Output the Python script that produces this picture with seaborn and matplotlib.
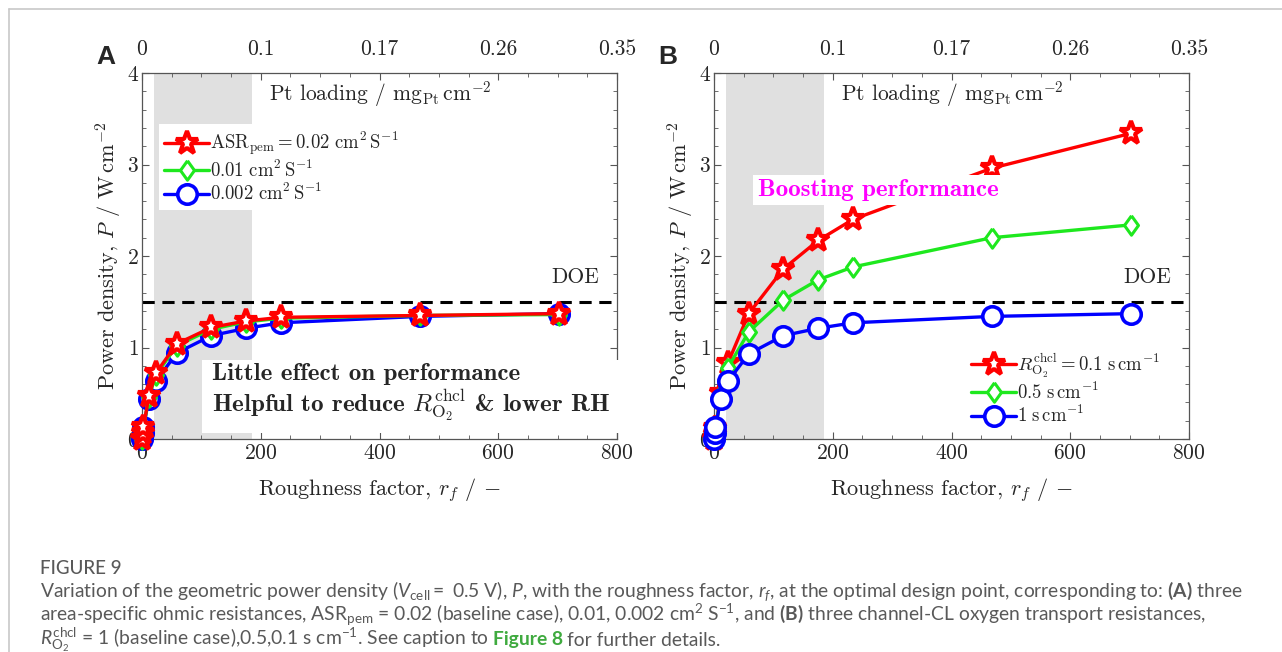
import numpy as np
import pandas as pd
import seaborn as sns
import matplotlib.pyplot as plt
from matplotlib.lines import Line2D

# roughness factor values (shared by all series)
rf = [0.23, 1.17, 2.34, 11.7, 23.4, 58.5, 117, 175.5, 234, 468, 702]

# panel A: different ASR_pem
a_red = [0.0, 0.07, 0.13, 0.47, 0.72, 1.04, 1.22, 1.29, 1.33, 1.35, 1.37]
a_green = [0.0, 0.06, 0.12, 0.46, 0.70, 1.02, 1.20, 1.28, 1.32, 1.35, 1.36]
a_blue = [0.0, 0.07, 0.13, 0.44, 0.63, 0.94, 1.13, 1.21, 1.27, 1.34, 1.37]

# panel B: different channel-CL O2 resistance
b_red = [0.0, 0.05, 0.12, 0.50, 0.83, 1.37, 1.86, 2.17, 2.40, 2.96, 3.34]
b_green = [0.0, 0.05, 0.11, 0.48, 0.78, 1.17, 1.52, 1.74, 1.88, 2.20, 2.34]
b_blue = [0.0, 0.07, 0.13, 0.44, 0.63, 0.93, 1.13, 1.21, 1.27, 1.34, 1.37]

top_ticks = [0, 200, 400, 600, 800]
top_labels = ['0', '0.1', '0.17', '0.26', '0.35']
doe = 1.5

sns.set_style('ticks')
plt.rcParams['font.family'] = ['cmr10']
plt.rcParams['mathtext.fontset'] = 'cm'
plt.rcParams['mathtext.rm'] = 'Lato'
plt.rcParams['mathtext.it'] = 'Lato:italic'
plt.rcParams['mathtext.bf'] = 'Lato:bold'
plt.rcParams['axes.formatter.use_mathtext'] = True
plt.rcParams['axes.unicode_minus'] = False

RED, GREEN, BLUE = '#ff0000', '#1ee81e', '#0000ff'
tall_diamond = [(0, 1), (0.72, 0), (0, -1), (-0.72, 0), (0, 1)]
styles = {
    'red': dict(color=RED, marker='*', markersize=17, mfc='white', mec=RED, mew=3.0),
    'green': dict(color=GREEN, marker=tall_diamond, markersize=14, mfc='white', mec=GREEN, mew=2.2),
    'blue': dict(color=BLUE, marker='o', markersize=14, mfc='white', mec=BLUE, mew=2.6),
}

fig = plt.figure(figsize=(12.82, 6.52), dpi=100)
axA = fig.add_axes([142 / 1282, 1 - 439 / 652, 475 / 1282, 366 / 652])
axB = fig.add_axes([714 / 1282, 1 - 439 / 652, 475 / 1282, 366 / 652])


def series(ax, y, key, z):
    sns.lineplot(x=rf, y=y, ax=ax, lw=2.4, zorder=z, errorbar=None,
                 legend=False, clip_on=False, **styles[key])


def style_axes(ax):
    ax.axvspan(20, 185, color='#e0e0e0', lw=0, zorder=0)
    ax.axhline(doe, color='black', lw=2.2, ls=(0, (4, 2.5)), zorder=2)
    ax.set_xlim(0, 800)
    ax.set_ylim(0, 4)
    ax.set_xticks([0, 200, 400, 600, 800])
    ax.set_xticks(np.arange(0, 801, 50), minor=True)
    ax.set_yticks([0, 1, 2, 3, 4])
    ax.set_yticks(np.arange(0, 4.01, 0.2), minor=True)
    ax.tick_params(which='both', direction='in', top=True, right=True,
                   color='#555555', labelsize=15.5)
    ax.tick_params(which='major', length=5, width=0.8)
    ax.tick_params(which='minor', length=3, width=0.6)
    ax.tick_params(axis='y', pad=2)
    for s in ax.spines.values():
        s.set_color('#555555')
        s.set_linewidth(0.9)
    ax.set_xlabel(r'Roughness factor, $r_f$ / $-$', fontsize=16, labelpad=9)
    ax.set_ylabel(r'Power density, $P$ / $\mathrm{W\,cm^{-2}}$', fontsize=16, labelpad=2)
    sec = ax.secondary_xaxis('top')
    sec.set_xticks(top_ticks)
    sec.set_xticklabels(top_labels)
    sec.tick_params(direction='in', length=0, labelsize=15.5, pad=10)
    sec.spines['top'].set_visible(False)
    ax.text(401, 3.77, r'Pt loading / $\mathrm{mg_{Pt}\,cm^{-2}}$', ha='center',
            va='center', fontsize=15.5, zorder=5)
    ax.text(729, 1.77, 'DOE', ha='center', va='center', fontsize=15.5, zorder=5)


def legend(ax, handles, labels, anchor):
    leg = ax.legend(handles, labels, loc='upper left', bbox_to_anchor=anchor,
                    fontsize=13.5, frameon=True, facecolor='white', edgecolor='none',
                    framealpha=1, fancybox=False, handlelength=2.4, handletextpad=0.05,
                    labelspacing=0.12, borderpad=0.3, borderaxespad=0)
    leg.set_zorder(6)
    for t in leg.get_texts():
        t.set_math_fontfamily('cm')
    return leg


# panel A
style_axes(axA)
series(axA, a_blue, 'blue', 3)
series(axA, a_green, 'green', 4)
series(axA, a_red, 'red', 5)
hA = [Line2D([], [], lw=2.4, **styles[k]) for k in ('red', 'green', 'blue')]
labA = [r'$\mathrm{ASR_{pem}} = 0.02\ \mathrm{cm^2\,S^{-1}}$',
        r'$0.01\ \mathrm{cm^2\,S^{-1}}$',
        r'$0.002\ \mathrm{cm^2\,S^{-1}}$']
legend(axA, hA, labA, (0.035, 0.86))
axA.text(118, 0.50, 'Little effect on performance\n'
         r'Helpful to reduce $R_{\mathrm{O_2}}^{\mathrm{chcl}}$ & lower RH',
         family='cmb10', fontsize=18, ha='left', va='center', linespacing=1.12,
         zorder=6, bbox=dict(fc='white', ec='none', pad=7))

# panel B
style_axes(axB)
series(axB, b_red, 'red', 3)
series(axB, b_green, 'green', 4)
series(axB, b_blue, 'blue', 5)
hB = [Line2D([], [], lw=2.4, **styles[k]) for k in ('red', 'green', 'blue')]
labB = [r'$R_{\mathrm{O_2}}^{\mathrm{chcl}} = 0.1\ \mathrm{s\,cm^{-1}}$',
        r'$0.5\ \mathrm{s\,cm^{-1}}$',
        r'$1\ \mathrm{s\,cm^{-1}}$']
legend(axB, hB, labB, (0.53, 0.255))
axB.text(276, 2.72, 'Boosting performance', family='cmb10', fontsize=18,
         color='#ff00ff', ha='center', va='center', zorder=6,
         bbox=dict(fc='white', ec='none', pad=3))

# panel letters
fig.text(96 / 1282, 1 - 57 / 652, 'A', family='Liberation Sans', weight='bold',
         fontsize=19, va='center')
fig.text(658 / 1282, 1 - 57 / 652, 'B', family='Liberation Sans', weight='bold',
         fontsize=19, va='center')

# frame lines
fig.add_artist(Line2D([9 / 1282, 1], [1 - 9 / 652] * 2, color='#c8c8c8', lw=1.2,
                      transform=fig.transFigure))
fig.add_artist(Line2D([9 / 1282] * 2, [0, 1 - 9 / 652], color='#c8c8c8', lw=1.2,
                      transform=fig.transFigure))

# caption
cap = dict(family='Lato', color='#595959', fontsize=13.9, math_fontfamily='custom',
           va='center', ha='left')
x0 = 40 / 1282
fig.text(x0, 1 - 568 / 652, 'FIGURE 9', **{**cap, 'fontsize': 13.5, 'weight': 'medium'})
fig.text(x0, 1 - 591 / 652,
         r'Variation of the geometric power density ($V_{\mathrm{cell}} =$ 0.5 V), $P$, '
         r'with the roughness factor, $r_f$, at the optimal design point, corresponding to: '
         r'$\mathbf{(A)}$ three', **cap)
fig.text(x0, 1 - 615 / 652,
         r'area-specific ohmic resistances, ASR$_{\mathrm{pem}}$ = 0.02 (baseline case), '
         r'0.01, 0.002 cm$^2$ S$^{-1}$, and $\mathbf{(B)}$ three channel-CL oxygen '
         r'transport resistances,', **cap)
t1 = fig.text(x0, 1 - 640 / 652,
              r'$R_{\mathrm{O_2}}^{\mathrm{chcl}}$ = 1 (baseline case),0.5,0.1 s cm$^{-1}$. '
              r'See caption to', **cap)
fig.canvas.draw()
rend = fig.canvas.get_renderer()
bb = t1.get_window_extent(rend)
xf = (bb.x1 + 4) / fig.bbox.width
t2 = fig.text(xf, 1 - 640 / 652, 'Figure 8', **{**cap, 'color': '#3faa3f',
                                                'weight': 'bold'})
bb2 = t2.get_window_extent(rend)
fig.text((bb2.x1 + 4) / fig.bbox.width, 1 - 640 / 652, 'for further details.', **cap)

fig.savefig('out.png', dpi=100)
